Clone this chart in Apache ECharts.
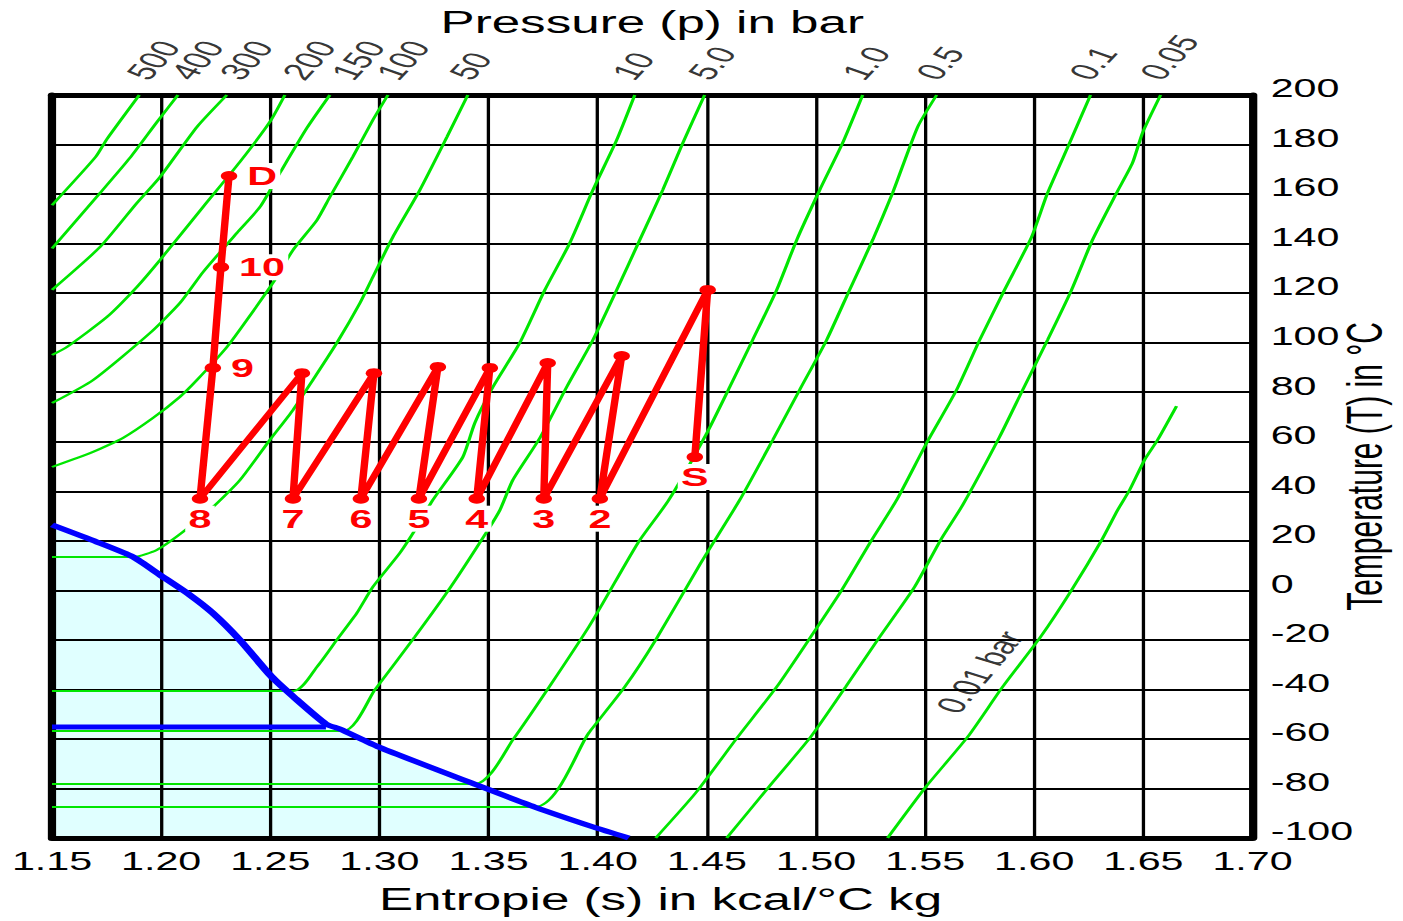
<!DOCTYPE html>
<html>
<head>
<meta charset="utf-8">
<script src="https://cdn.jsdelivr.net/npm/echarts/dist/echarts.min.js"></script>
<style>
  html, body { margin: 0; padding: 0; background: #fff; overflow: hidden; }
  #chart { height: 921px; transform-origin: 0 0; }
</style>
</head>
<body>
<div id="chart"></div>
<script>
// isobars, [entropy s, temperature T] (low T -> high T)
const p500 = [[1.150, 155.5], [1.170, 175.0], [1.175, 182.0], [1.190, 200]];
const p400 = [[1.150, 138.0], [1.172, 160.4], [1.1857, 174.6], [1.1981, 189.1], [1.2077, 200]];
const p300 = [[1.150, 121.3], [1.172, 138.6], [1.1889, 156.4], [1.1995, 166.9], [1.2164, 187.1], [1.2301, 200]];
const p200 = [[1.150, 95.0], [1.1569, 98.3], [1.1752, 110.4], [1.1889, 122.5], [1.1995, 133.4], [1.2192, 154.8],
              [1.2361, 173.0], [1.2498, 189.1], [1.2567, 200]];
const p150 = [[1.150, 75.6], [1.1688, 84.9], [1.1949, 103.9], [1.2086, 116.0], [1.2192, 128.5], [1.2347, 144.3],
              [1.2453, 154.8], [1.2544, 168.5], [1.2668, 186.7], [1.2773, 200]];
const p100 = [[1.150, 49.8], [1.1688, 55.9], [1.1825, 61.5], [1.1963, 69.6], [1.2086, 78.1], [1.2164, 84.9],
              [1.2301, 98.2], [1.2393, 109.2], [1.2512, 124.1], [1.2604, 137.4], [1.2714, 149.5], [1.2773, 158.8],
              [1.2878, 175.0], [1.2970, 189.9], [1.3039, 200]];
const p50 = [[1.150, 13.5], [1.1876, 13.5], [1.198, 16.3], [1.2100, 23.6], [1.2237, 33.6], [1.2361, 44.5],
             [1.2498, 60.7], [1.2604, 72.8], [1.2695, 84.9], [1.2805, 99.9], [1.2911, 116.0], [1.2970, 126.5],
             [1.3062, 142.7], [1.3185, 161.6], [1.3309, 183.0], [1.3405, 200]];
const p10 = [[1.150, -40.6], [1.2608, -40.6], [1.2714, -30.9], [1.2805, -20.0], [1.2897, -9.1], [1.2970, 1.4],
             [1.3094, 15.1], [1.3172, 25.6], [1.3245, 36.5], [1.3382, 53.8], [1.3437, 67.6], [1.3520, 82.1],
             [1.3643, 99.9], [1.3758, 121.3], [1.3872, 140.2], [1.3978, 161.6], [1.4087, 181.8], [1.4170, 200]];
const p5 = [[1.150, -56.8], [1.2833, -56.8], [1.2979, -40.2], [1.3162, -18.8], [1.3327, 1.4], [1.3488, 23.1],
            [1.3552, 32.4], [1.3611, 44.5], [1.3735, 61.5], [1.3858, 82.1], [1.3978, 101.1], [1.4087, 121.3],
            [1.4193, 141.5], [1.4298, 161.6], [1.4390, 180.6], [1.4490, 200]];
const p1 = [[1.150, -78.2], [1.3437, -78.2], [1.3611, -60.4], [1.3959, -14.8], [1.4184, 19.1], [1.4326, 36.5],
            [1.4500, 63.5], [1.4605, 82.1], [1.4710, 101.1], [1.4820, 121.3], [1.4912, 141.5], [1.5017, 161.6],
            [1.5122, 180.6], [1.5214, 200]];
const p05 = [[1.150, -87.5], [1.3712, -87.5], [1.3959, -57.6], [1.4124, -39.0], [1.4266, -20.0], [1.4472, 11.0],
             [1.4651, 36.5], [1.4802, 60.7], [1.4925, 80.9], [1.5049, 101.1], [1.5154, 121.3], [1.5260, 141.5],
             [1.5351, 160.4], [1.5466, 187.1], [1.5553, 200]];
const p01 = [[1.4266, -100], [1.4449, -81.8], [1.4642, -59.2], [1.4820, -39.0], [1.4976, -18.8], [1.5118, 0.1],
             [1.5255, 20.3], [1.5370, 36.5], [1.5507, 59.5], [1.5644, 80.9], [1.5750, 101.1], [1.5864, 121.3],
             [1.5988, 142.7], [1.6061, 160.4], [1.6162, 180.6], [1.6258, 200]];
const p005 = [[1.4591, -100], [1.4784, -79.4], [1.4976, -59.2], [1.5136, -39.0], [1.5292, -18.8], [1.5452, 1.4],
              [1.5571, 20.3], [1.5672, 34.4], [1.5841, 61.9], [1.5947, 80.9], [1.6061, 101.1], [1.6171, 121.3],
              [1.6267, 141.5], [1.6377, 160.4], [1.6450, 172.5], [1.6496, 184.7], [1.6579, 200]];
const p001 = [[1.5328, -100], [1.5503, -79.4], [1.5695, -59.2], [1.5855, -39.0], [1.6029, -18.8], [1.6171, 0.1],
              [1.6309, 20.3], [1.6382, 32.4], [1.6437, 40.5], [1.6505, 52.6], [1.6565, 60.7], [1.6652, 74.4]];

// saturation / sublimation curve and triple point line
const satCurve = [[1.150, 26.4], [1.1706, 19.5], [1.1871, 13.5], [1.1995, 6.2], [1.2132, -1.9], [1.2237, -9.2],
                  [1.2361, -20.1], [1.2503, -34.6], [1.2608, -43.1], [1.2755, -54.0], [1.2819, -56.0],
                  [1.2998, -63.3], [1.3446, -78.6], [1.3712, -87.5], [1.3982, -95.6], [1.4142, -100]];
const tripleLine = [[1.150, -55.2], [1.2755, -55.2]];

// compression path S -> D
const processNames = ['S', '', '2', '', '3', '', '4', '', '5', '', '6', '', '7', '', '8', '9', '10', 'D'];
const processS = [1.4445, 1.4504, 1.4010, 1.4110, 1.3753, 1.3771, 1.3446, 1.3506, 1.3181, 1.3268,
                  1.2915, 1.2975, 1.2604, 1.2645, 1.2178, 1.2237, 1.2274, 1.2311];
const processT = [53.8, 121.3, 37, 94.6, 37, 91.8, 37, 89.8, 37, 90.2, 37, 87.7, 37, 87.7, 37, 89.8, 130.5, 167.3];

// pressure labels along the top edge
const pressureNames = ['500', '400', '300', '200', '150', '100', '50', '10', '5.0', '1.0', '0.5', '0.1', '0.05'];
const pressureLabelS = [1.1917, 1.2118, 1.2343, 1.2631, 1.2856, 1.3062, 1.3396, 1.4142, 1.4490, 1.5196, 1.5535, 1.6235, 1.6560];
const lowIsobarName = '0.01 bar';
const lowIsobarS = 1.575, lowIsobarT = -33;

const isobars = [p500, p400, p300, p200, p150, p100, p50, p10, p5, p1, p05, p01, p005, p001];

// the picture is stretched horizontally, so draw narrow and stretch the svg
const K = 1.65;
const W = 1403 / K;
const el = document.getElementById('chart');
el.style.width = W + 'px';
el.style.transform = 'scaleX(' + K + ')';

const FONT = "'Liberation Sans', Arial, Helvetica, sans-serif";
const chart = echarts.init(el, null, { renderer: 'svg' });

const rightSide = new Set(['9', '10', 'D']);
const processData = processNames.map((n, i) => {
  const item = { name: n, value: [processS[i], processT[i]] };
  if (!n) item.label = { show: false };
  else item.label = { position: rightSide.has(n) ? 'right' : 'bottom', distance: rightSide.has(n) ? 4 : 2 };
  return item;
});

const border = { show: true, onZero: false, lineStyle: { color: '#000', width: 5 } };

const series = [
  {
    type: 'line', data: satCurve, showSymbol: false, smooth: 0.2,
    lineStyle: { width: 0 }, areaStyle: { color: '#e0ffff', origin: 'start', opacity: 1 },
    z: 0, silent: true
  }
];
isobars.forEach(d => {
  series.push({
    type: 'line', data: d, showSymbol: false, smooth: 0.2,
    lineStyle: { color: '#00e600', width: 2 }, z: 2, silent: true
  });
});
series.push({
  type: 'line', data: satCurve, showSymbol: false, smooth: 0.2,
  lineStyle: { color: '#0000ff', width: 5 }, z: 3, silent: true
});
series.push({
  type: 'line', data: tripleLine, showSymbol: false,
  lineStyle: { color: '#0000ff', width: 5 }, z: 3, silent: true
});
series.push({
  type: 'line', data: processData, symbol: 'circle', symbolSize: 10, showAllSymbol: true,
  itemStyle: { color: '#ff0000' },
  lineStyle: { color: '#ff0000', width: 4.5, cap: 'round', join: 'round' },
  label: {
    show: true, formatter: '{b}', color: '#ff0000', fontSize: 25, fontWeight: 'bold', fontFamily: FONT,
    backgroundColor: '#fff', padding: [1, 2, 0, 2]
  },
  z: 5, silent: true
});
series.push({
  type: 'scatter', clip: false, symbolSize: 1, itemStyle: { color: 'transparent' },
  data: pressureNames.map((n, i) => ({ name: n, value: [pressureLabelS[i], 200] })),
  label: {
    show: true, formatter: '{b}', position: [7, -11], align: 'left', verticalAlign: 'bottom',
    rotate: 60, fontSize: 24, color: '#000', fontFamily: FONT
  },
  z: 6, silent: true
});
series.push({
  type: 'scatter', clip: false, symbolSize: 1, itemStyle: { color: 'transparent' },
  data: [{ name: lowIsobarName, value: [lowIsobarS, lowIsobarT] }],
  label: {
    show: true, formatter: '{b}', position: 'inside', align: 'center', verticalAlign: 'middle',
    rotate: 63, fontSize: 24, color: '#000', fontFamily: FONT
  },
  z: 6, silent: true
});

const option = {
  animation: false,
  backgroundColor: '#fff',
  textStyle: { fontFamily: FONT, color: '#000' },
  grid: { left: 52 / K, right: W - 1253 / K, top: 95, bottom: 83, outerBoundsMode: 'none' },
  xAxis: [
    {
      type: 'value', position: 'bottom', min: 1.15, max: 1.70, interval: 0.05, z: 1,
      axisLine: border, axisTick: { show: false },
      axisLabel: { formatter: v => v.toFixed(2), fontSize: 25, color: '#000', margin: 11, fontFamily: FONT },
      splitLine: { show: true, lineStyle: { color: '#000', width: 2 } },
      name: 'Entropie (s) in kcal/°C kg', nameLocation: 'middle', nameGap: 46, nameMoveOverlap: false,
      nameTextStyle: { fontSize: 31, color: '#000', fontFamily: FONT, padding: [0, 0, 0, 10] }
    },
    {
      type: 'value', position: 'top', min: 1.15, max: 1.70, z: 1,
      axisLine: border, axisTick: { show: false }, axisLabel: { show: false }, splitLine: { show: false },
      name: 'Pressure (p) in bar', nameLocation: 'middle', nameGap: 57, nameMoveOverlap: false,
      nameTextStyle: { fontSize: 31, color: '#000', fontFamily: FONT }
    }
  ],
  yAxis: [
    {
      type: 'value', position: 'right', min: -100, max: 200, interval: 20, z: 1,
      axisLine: border, axisTick: { show: false },
      axisLabel: { fontSize: 25, color: '#000', margin: 11, verticalAlign: 'bottom', lineHeight: 13, fontFamily: FONT },
      splitLine: { show: true, lineStyle: { color: '#000', width: 2 } },
      name: 'Temperature (T) in °C', nameLocation: 'middle', nameRotate: 90, nameGap: 53, nameMoveOverlap: false,
      nameTextStyle: { fontSize: 30, color: '#000', fontFamily: FONT }
    },
    {
      type: 'value', position: 'left', min: -100, max: 200, z: 1,
      axisLine: border, axisTick: { show: false }, axisLabel: { show: false }, splitLine: { show: false }
    }
  ],
  series: series
};

chart.setOption(option);
</script>
</body>
</html>
